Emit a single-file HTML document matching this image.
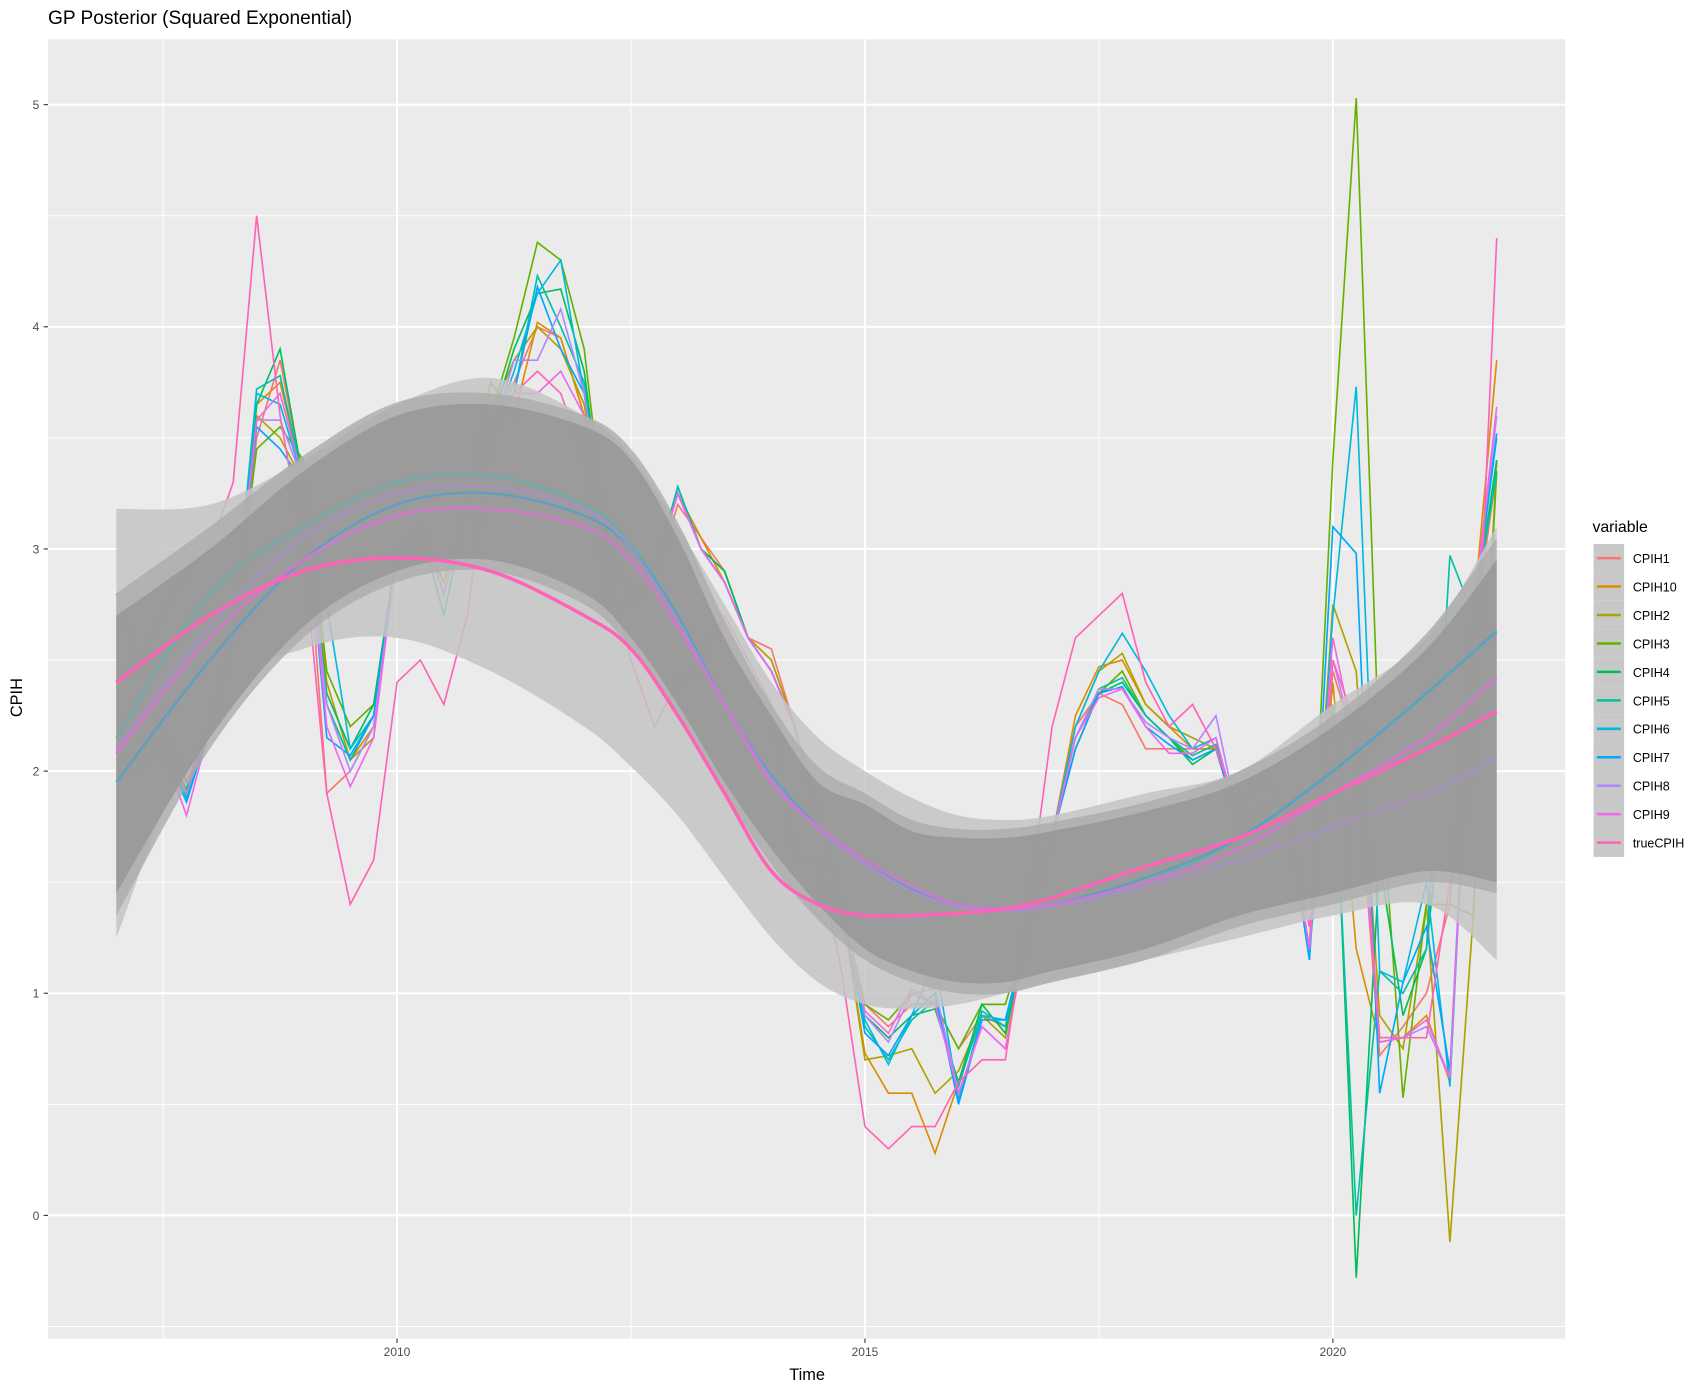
<!DOCTYPE html>
<html><head><meta charset="utf-8"><style>
body{margin:0;background:#fff;font-family:"Liberation Sans",sans-serif;}
svg text{font-family:"Liberation Sans",sans-serif;}
</style></head><body>
<svg id="chart" width="1707" height="1392" viewBox="0 0 1565 1277" preserveAspectRatio="none" xmlns="http://www.w3.org/2000/svg">
<text x="44" y="22" font-size="17.5" fill="#000">GP Posterior (Squared Exponential)</text>
<rect x="44" y="36" width="1391" height="1192" fill="#ebebeb"/>
<g id="grid"></g>
<g id="clipwrap" clip-path="url(#pc)">
<defs><clipPath id="pc"><rect x="44" y="36" width="1391" height="1192"/></clipPath></defs>
<g id="raw"></g>
<g id="ribbons"></g>
<g id="means"></g>
</g>
<g id="axes"></g>
<text x="740" y="1266" font-size="15" text-anchor="middle">Time</text>
<text transform="translate(20,640) rotate(-90)" font-size="15" text-anchor="middle">CPIH</text>
<g id="legend">
<text x="1460" y="488" font-size="14.5">variable</text>
</g>
</svg>
<script>
const years=[];for(let i=0;i<60;i++)years.push(2007+0.25*i);
const CPIH1=[2.8,2.5,2.2,1.95,2.2,2.6,3.5,3.85,3.3,1.9,2.0,2.2,3.0,3.05,2.85,3.2,3.5,3.75,4.0,3.95,3.6,2.7,2.75,2.85,3.2,3.05,2.9,2.6,2.55,2.2,1.8,1.4,0.95,0.85,0.95,0.95,0.75,0.9,0.85,1.3,1.7,2.2,2.35,2.3,2.1,2.1,2.1,2.1,1.75,1.85,1.85,1.2,2.45,2.1,0.72,0.85,1.0,1.4,2.6,3.35];
const CPIH10=[2.1,2.05,2.1,1.9,2.2,2.6,3.65,3.75,3.3,2.3,2.05,2.2,3.0,3.1,2.8,3.2,3.75,3.6,4.02,3.95,3.6,3.0,2.8,2.9,3.25,3.05,2.85,2.6,2.5,2.2,1.8,1.4,0.73,0.55,0.55,0.28,0.6,0.9,0.85,1.3,1.7,2.25,2.47,2.5,2.3,2.2,2.1,2.1,1.75,1.85,1.85,1.2,2.4,1.2,0.78,0.8,0.9,0.6,2.7,3.85];
const CPIH2=[2.05,2.05,2.1,1.9,2.2,2.6,3.6,3.5,3.3,2.4,2.05,2.15,3.0,3.1,2.8,3.2,3.6,3.85,4.0,3.9,3.65,3.0,2.8,2.9,3.25,3.0,2.85,2.6,2.5,2.2,1.8,1.4,0.7,0.72,0.75,0.55,0.65,0.9,0.8,1.3,1.7,2.2,2.45,2.53,2.3,2.2,2.15,2.1,1.75,1.85,1.85,1.2,2.75,2.45,0.9,0.75,1.4,-0.12,1.35,3.4];
const CPIH3=[2.0,2.0,2.1,1.9,2.2,2.6,3.45,3.55,3.4,2.45,2.2,2.3,3.0,3.1,2.85,3.2,3.6,3.95,4.38,4.3,3.9,3.0,2.8,2.9,3.25,3.0,2.9,2.6,2.45,2.2,1.8,1.4,0.95,0.88,1.0,0.95,0.75,0.95,0.95,1.3,1.7,2.1,2.35,2.45,2.25,2.15,2.05,2.1,1.75,1.85,1.85,1.2,3.4,5.03,2.0,0.53,1.4,1.4,1.35,3.35];
const CPIH4=[2.0,2.0,2.1,1.92,2.2,2.6,3.65,3.9,3.3,2.35,2.1,2.3,3.0,3.1,2.8,3.2,3.55,3.9,4.15,4.17,3.8,3.0,2.8,2.9,3.28,3.0,2.9,2.6,2.45,2.2,1.8,1.4,0.9,0.8,0.9,0.93,0.6,0.95,0.82,1.3,1.7,2.15,2.35,2.4,2.25,2.15,2.03,2.1,1.75,1.85,1.85,1.2,2.3,-0.28,1.6,0.9,1.2,2.2,2.7,3.4];
const CPIH5=[2.15,2.05,2.1,1.88,2.2,2.6,3.72,3.78,3.3,2.3,2.05,2.25,3.0,3.1,2.7,3.2,3.6,3.7,4.23,4.0,3.75,3.0,2.8,2.9,3.28,3.0,2.85,2.6,2.45,2.2,1.8,1.4,0.85,0.7,0.88,0.97,0.58,0.92,0.85,1.3,1.7,2.15,2.37,2.42,2.25,2.15,2.07,2.12,1.75,1.85,1.85,1.2,2.2,0.0,1.1,1.0,1.2,2.97,2.7,3.35];
const CPIH6=[2.1,2.05,2.1,1.9,2.2,2.6,3.7,3.65,3.3,2.75,2.1,2.25,3.0,3.1,2.8,3.2,3.5,3.8,4.15,4.3,3.7,3.0,2.8,2.9,3.25,3.0,2.85,2.6,2.45,2.2,1.8,1.4,0.88,0.68,0.9,1.15,0.52,0.9,0.88,1.3,1.7,2.2,2.45,2.62,2.45,2.25,2.1,2.15,1.75,1.85,1.85,1.15,2.7,3.73,1.1,1.05,1.5,0.58,2.7,3.5];
const CPIH7=[1.95,2.0,2.1,1.86,2.2,2.6,3.55,3.45,3.3,2.15,2.07,2.25,3.0,3.1,2.8,3.2,3.5,3.7,4.18,3.9,3.7,3.0,2.8,2.9,3.25,3.0,2.85,2.6,2.45,2.2,1.8,1.4,0.82,0.72,0.9,1.0,0.5,0.88,0.88,1.3,1.7,2.1,2.35,2.38,2.2,2.12,2.05,2.1,1.75,1.85,1.85,1.15,3.1,2.98,0.55,1.05,1.3,0.65,2.7,3.52];
const CPIH8=[2.05,2.0,2.1,1.9,2.2,2.6,3.58,3.58,3.3,2.3,2.0,2.2,3.0,3.1,2.8,3.2,3.5,3.85,3.85,4.08,3.7,3.0,2.8,2.9,3.25,3.0,2.85,2.6,2.45,2.2,1.8,1.4,0.9,0.78,1.0,1.02,0.55,0.85,0.75,1.3,1.7,2.15,2.37,2.37,2.22,2.15,2.1,2.25,1.75,1.85,1.85,1.2,2.5,2.1,0.8,0.8,0.85,0.62,2.7,3.6];
const CPIH9=[2.1,2.0,2.1,1.8,2.2,2.6,3.58,3.7,3.3,2.2,1.93,2.15,3.0,3.1,2.8,3.2,3.5,3.7,3.7,3.8,3.6,3.0,2.8,2.9,3.25,3.0,2.85,2.6,2.45,2.2,1.8,1.4,0.92,0.82,1.02,0.95,0.55,0.85,0.75,1.3,1.7,2.15,2.33,2.37,2.2,2.08,2.08,2.15,1.75,1.85,1.85,1.2,2.6,2.1,0.78,0.8,0.88,0.62,2.7,3.64];
const trueCPIH=[2.4,2.5,2.7,2.9,3.0,3.3,4.5,3.6,3.0,1.9,1.4,1.6,2.4,2.5,2.3,2.7,3.5,3.7,3.8,3.7,3.4,2.9,2.5,2.2,2.4,2.5,2.7,2.5,2.3,1.6,1.6,1.1,0.4,0.3,0.4,0.4,0.6,0.7,0.7,1.4,2.2,2.6,2.7,2.8,2.4,2.2,2.3,2.1,1.8,2.0,1.8,1.3,2.5,2.2,0.8,0.8,0.8,1.5,2.0,4.4];
const gridT=[2007,2008,2009,2010,2011,2012,2012.5,2013,2013.5,2014,2014.5,2015,2015.5,2016,2016.5,2017,2018,2019,2020,2021,2021.75];
const outerUp=[3.18,3.2,3.4,3.65,3.77,3.6,3.42,3.1,2.75,2.4,2.15,2.0,1.88,1.8,1.78,1.8,1.9,2.0,2.3,2.6,3.1];
const outerLo=[1.25,2.3,2.55,2.6,2.45,2.2,2.02,1.8,1.52,1.25,1.05,0.95,0.93,0.95,1.0,1.05,1.15,1.25,1.35,1.4,1.15];
const midUp=[2.8,3.1,3.42,3.66,3.7,3.6,3.45,3.12,2.68,2.3,2.02,1.9,1.78,1.74,1.74,1.77,1.86,2.0,2.25,2.62,3.05];
const midLo=[1.35,2.1,2.6,2.85,2.9,2.75,2.55,2.25,1.9,1.58,1.33,1.15,1.05,1.0,1.0,1.05,1.15,1.3,1.4,1.5,1.45];
const darkUp=[2.7,3.0,3.35,3.6,3.65,3.55,3.4,3.05,2.6,2.25,1.95,1.85,1.73,1.7,1.7,1.73,1.82,1.95,2.2,2.55,2.95];
const darkLo=[1.45,2.15,2.65,2.9,2.95,2.8,2.6,2.3,1.95,1.65,1.4,1.2,1.1,1.05,1.05,1.1,1.2,1.35,1.45,1.55,1.5];
const meanTrue=[2.4,2.7,2.9,2.96,2.9,2.7,2.55,2.25,1.9,1.55,1.4,1.35,1.35,1.36,1.38,1.43,1.57,1.7,1.9,2.1,2.27];
const meanPink=[2.08,2.6,2.95,3.15,3.18,3.1,2.95,2.65,2.3,1.95,1.75,1.6,1.48,1.4,1.38,1.4,1.5,1.65,1.9,2.15,2.42];
const meanTeal=[2.15,2.8,3.1,3.3,3.33,3.2,3.02,2.7,2.3,1.98,1.75,1.6,1.47,1.4,1.38,1.4,1.5,1.7,2.0,2.35,2.63];
const meanBlue=[1.95,2.5,2.95,3.2,3.25,3.15,3.0,2.7,2.3,1.98,1.75,1.6,1.47,1.4,1.38,1.4,1.52,1.7,2.0,2.35,2.63];
const meanPurple=[2.1,2.65,3.05,3.25,3.28,3.18,3.0,2.68,2.3,1.97,1.74,1.58,1.46,1.39,1.37,1.39,1.48,1.6,1.75,1.9,2.06];
const yTicks=[0,1,2,3,4,5];
const xTicks=[2010,2015,2020];
const seriesNames=["CPIH1","CPIH10","CPIH2","CPIH3","CPIH4","CPIH5","CPIH6","CPIH7","CPIH8","CPIH9","trueCPIH"];

const colors=["#F8766D","#DB8E00","#AEA200","#64B200","#00BD5C","#00C1A7","#00BADE","#00A6FF","#B385FF","#EF67EB","#FF63B6"];
const seriesData=[CPIH1,CPIH10,CPIH2,CPIH3,CPIH4,CPIH5,CPIH6,CPIH7,CPIH8,CPIH9,trueCPIH];
const NS="http://www.w3.org/2000/svg";
const X=t=>364+(t-2010)*85.8;
const Y=v=>1115-v*203.8;
function mk(tag,attrs,parent){const e=document.createElementNS(NS,tag);for(const k in attrs)e.setAttribute(k,attrs[k]);parent.appendChild(e);return e;}
function smooth(pts){let d="M"+pts[0][0]+","+pts[0][1];for(let i=0;i<pts.length-1;i++){const p0=pts[Math.max(0,i-1)],p1=pts[i],p2=pts[i+1],p3=pts[Math.min(pts.length-1,i+2)];
const c1=[p1[0]+(p2[0]-p0[0])/6,p1[1]+(p2[1]-p0[1])/6],c2=[p2[0]-(p3[0]-p1[0])/6,p2[1]-(p3[1]-p1[1])/6];
d+=" C"+c1[0]+","+c1[1]+" "+c2[0]+","+c2[1]+" "+p2[0]+","+p2[1];}return d;}
const grid=document.getElementById('grid');
for(let v=-0.5;v<=5.5;v+=0.5){const y=Y(v);if(y<36||y>1228)continue;const major=Math.abs(v-Math.round(v))<1e-6;
const l=mk('line',{x1:44,x2:1435,y1:y,y2:y,stroke:'#fff','stroke-width':major?1.8:0.9},grid);

}
for(let t=2007.5;t<=2022;t+=2.5){const x=X(t);const major=Math.abs(t%5)<1e-6;
const l=mk('line',{x1:x,x2:x,y1:36,y2:1228,stroke:'#fff','stroke-width':major?1.8:0.9},grid);

}
const raw=document.getElementById('raw');
seriesData.forEach((s,k)=>{const d=s.map((v,i)=>(i?'L':'M')+X(years[i]).toFixed(1)+','+Y(v).toFixed(1)).join(' ');
const p=mk('path',{d:d,fill:'none',stroke:colors[k],'stroke-width':1.5},raw);

});
const rib=document.getElementById('ribbons');
function band(up,lo,fill,op,name){const a=gridT.map((t,i)=>[X(t),Y(up[i])]);const b=gridT.map((t,i)=>[X(t),Y(lo[i])]).reverse();
const sb=smooth(b);
const d=smooth(a)+" L"+b[0][0]+","+b[0][1]+sb.slice(sb.indexOf(' '))+" Z";
const p=mk('path',{d:d,fill:fill,'fill-opacity':op},rib);

}
band(outerUp,outerLo,'#c4c4c4',0.85,'ribbon-outer');
band(midUp,midLo,'#ababab',0.8,'ribbon-middle');
band(darkUp,darkLo,'#999999',0.93,'ribbon-inner');
const means=document.getElementById('means');
function curve(arr,col,w,op,name){const p=mk('path',{d:smooth(gridT.map((t,i)=>[X(t),Y(arr[i])])),fill:'none',stroke:col,'stroke-width':w,'stroke-opacity':op},means);

}
curve(meanTeal,'#5fb0b0',2.3,0.7,'mean-curve-cpih5');
curve(meanBlue,'#4a9fd0',2.3,0.7,'mean-curve-cpih7');
curve(meanPurple,'#b08ad8',2.3,0.6,'mean-curve-cpih8');
curve(meanPink,'#e070d8',2.3,0.85,'mean-curve-cpih9');
curve(meanTrue,'#FF63B6',3.2,1,'mean-curve-truecpih');
const axes=document.getElementById('axes');
yTicks.forEach(v=>{const y=Y(v);mk('line',{x1:40,x2:44,y1:y,y2:y,stroke:'#333','stroke-width':1},axes);
const t=mk('text',{x:36,y:y+4,'font-size':11,fill:'#4d4d4d','text-anchor':'end'},axes);t.textContent=v;

});
xTicks.forEach(v=>{const x=X(v);mk('line',{x1:x,x2:x,y1:1228,y2:1232,stroke:'#333','stroke-width':1},axes);
const t=mk('text',{x:x,y:1244,'font-size':11,fill:'#4d4d4d','text-anchor':'middle'},axes);t.textContent=v;

});
const lg=document.getElementById('legend');
seriesNames.forEach((n,k)=>{const y=499+k*26.1;
const g=mk('g',{},lg);


mk('rect',{x:1461,y:y,width:28,height:26.1,fill:'#c8c8c8'},g);
mk('line',{x1:1464,x2:1486,y1:y+13,y2:y+13,stroke:colors[k],'stroke-width':2.3},g);
const t=mk('text',{x:1497,y:y+17.5,'font-size':11.5,fill:'#000'},g);t.textContent=n;});
</script>
</body></html>
